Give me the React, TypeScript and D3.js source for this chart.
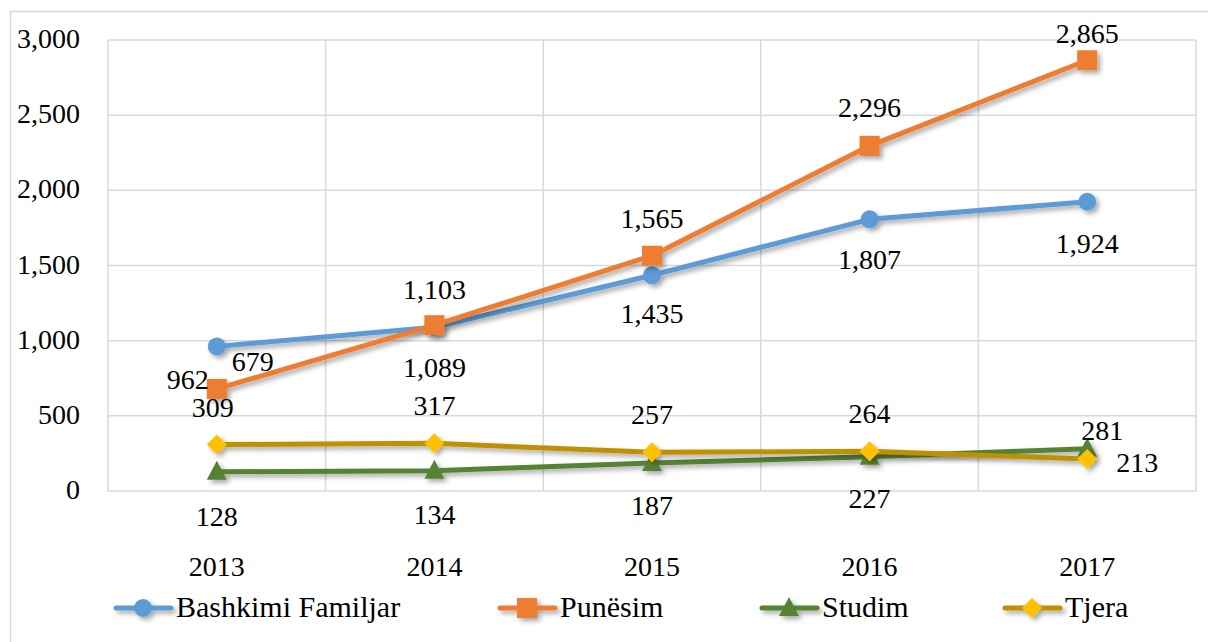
import React from "react";
import * as d3 from "d3";

const years = ["2013", "2014", "2015", "2016", "2017"];
const bashkimi = [962, 1089, 1435, 1807, 1924];
const punesim = [679, 1103, 1565, 2296, 2865];
const studim = [128, 134, 187, 227, 281];
const tjera = [309, 317, 257, 264, 213];
const yTicks = [0, 500, 1000, 1500, 2000, 2500, 3000];

// label offsets (dx, dy) relative to point, per series
const bashkimiLbl = [[-29, 33], [0, 40], [0, 38], [0, 40], [0, 41]];
const punesimLbl = [[36, -28], [0, -36], [0, -38], [0, -39], [0, -27]];
const studimLbl = [[0, 44], [0, 43], [0, 42], [0, 41], [15, -19]];
const tjeraLbl = [[-4, -38], [0, -38], [0, -38], [0, -38], [50, 3]];

const W = 1208, H = 642;
const left = 108, right = 1196, top = 40, bottom = 491;
const FONT = "Liberation Serif";

type Series = { name: string; values: number[]; line: string; fill: string; marker: string; lbl: number[][]; legendX: number };

const series: Series[] = [
  { name: "Bashkimi Familjar", values: bashkimi, line: "#5B9BD5", fill: "#5B9BD5", marker: "circle", lbl: bashkimiLbl, legendX: 116 },
  { name: "Punësim", values: punesim, line: "#ED7D31", fill: "#ED7D31", marker: "square", lbl: punesimLbl, legendX: 500 },
  { name: "Studim", values: studim, line: "#548235", fill: "#548235", marker: "triangle", lbl: studimLbl, legendX: 762 },
  { name: "Tjera", values: tjera, line: "#BF9000", fill: "#FFC000", marker: "diamond", lbl: tjeraLbl, legendX: 1005 },
];

function Marker({ type, x, y, fill }: { type: string; x: number; y: number; fill: string }) {
  if (type === "circle") return <circle cx={x} cy={y} r={9} fill={fill} />;
  if (type === "square") return <rect x={x - 10} y={y - 10} width={20} height={20} fill={fill} />;
  if (type === "triangle")
    return <path d={`M${x},${y - 11} L${x + 10},${y + 8} L${x - 10},${y + 8} Z`} fill={fill} />;
  return <path d={`M${x},${y - 10} L${x + 10},${y} L${x},${y + 10} L${x - 10},${y} Z`} fill={fill} />;
}

const fam = { fontFamily: FONT };

export default function App() {
  const x = d3.scaleBand<string>().domain(years).range([left, right]);
  const y = d3.scaleLinear().domain([0, 3000]).range([bottom, top]);
  const cx = (yr: string) => (x(yr) as number) + x.bandwidth() / 2;
  const line = d3
    .line<number>()
    .x((_, i) => cx(years[i]))
    .y((d) => y(d));
  const fmt = d3.format(",");
  const vLines = years.map((yr) => x(yr) as number).concat([right]);

  return (
    <svg width={W} height={H} style={{ position: "absolute", left: 0, top: 0, fontFamily: FONT }}>
      <defs>
        <filter id="sh" x="-20%" y="-20%" width="140%" height="160%">
          <feDropShadow dx="3" dy="3" stdDeviation="2.5" floodColor="#000" floodOpacity="0.35" />
        </filter>
      </defs>
      <rect x={0} y={0} width={W} height={H} fill="#fff" />
      <rect x={10.5} y={11.5} width={W + 20} height={H + 20} fill="none" stroke="#d9d9d9" strokeWidth={1.5} />
      {yTicks.map((t) => (
        <line key={"h" + t} x1={left} x2={right} y1={y(t)} y2={y(t)} stroke="#d9d9d9" strokeWidth={1.5} />
      ))}
      {vLines.map((v, i) => (
        <line key={"v" + i} x1={v} x2={v} y1={top} y2={bottom} stroke="#d9d9d9" strokeWidth={1.5} />
      ))}
      {yTicks.map((t) => (
        <text key={"yl" + t} x={80} y={y(t) + 8} textAnchor="end" fontSize={28} style={fam}>
          {fmt(t)}
        </text>
      ))}
      {years.map((yr) => (
        <text key={"xl" + yr} x={cx(yr)} y={576} textAnchor="middle" fontSize={28} style={fam}>
          {yr}
        </text>
      ))}
      {series.map((s) => (
        <g key={s.name} filter="url(#sh)">
          <path d={line(s.values) as string} fill="none" stroke={s.line} strokeWidth={5} strokeLinejoin="round" strokeLinecap="round" />
          {s.values.map((v, i) => (
            <Marker key={i} type={s.marker} x={cx(years[i])} y={y(v)} fill={s.fill} />
          ))}
        </g>
      ))}
      {series.map((s) =>
        s.values.map((v, i) => (
          <text
            key={s.name + "l" + i}
            x={cx(years[i]) + s.lbl[i][0]}
            y={y(v) + s.lbl[i][1] + 10}
            textAnchor="middle"
            fontSize={28}
            style={fam}
          >
            {fmt(v)}
          </text>
        ))
      )}
      {series.map((s) => (
        <g key={"lg" + s.name}>
          <g filter="url(#sh)">
            <line x1={s.legendX} x2={s.legendX + 55} y1={608} y2={608} stroke={s.line} strokeWidth={5} strokeLinecap="round" />
            <Marker type={s.marker} x={s.legendX + 27} y={608} fill={s.fill} />
          </g>
          <text x={s.legendX + 60} y={617} fontSize={30} style={fam}>
            {s.name}
          </text>
        </g>
      ))}
    </svg>
  );
}
